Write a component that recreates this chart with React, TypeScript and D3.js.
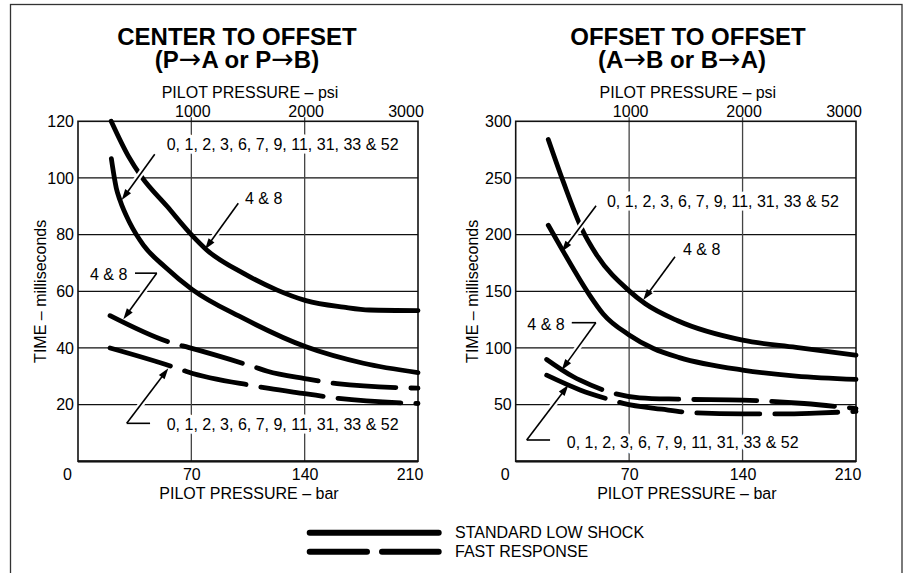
import React from 'react';
import * as d3 from 'd3';

type Pt = [number, number];

// axis ticks
const barTicks = [0, 70, 140, 210];
const psiTicks = [1000, 2000, 3000];
const gridBar = [70, 140];
const centerTimeTicks = [20, 40, 60, 80, 100, 120];
const offsetTimeTicks = [50, 100, 150, 200, 250, 300];

// center to offset, [bar, ms]
const centerStd48: Pt[] = [[20.5, 120], [31, 107.8], [39.3, 100.4], [55, 90], [70, 80], [79.5, 74.6], [102, 66.4], [122.7, 60.5], [140.8, 56.7], [164, 54.4], [180, 53.4], [210, 53.2]];
const centerStd0: Pt[] = [[20.6, 106.8], [23.7, 96.3], [25.9, 92.2], [32.1, 84], [40.4, 76.3], [54, 68.5], [70.4, 60.7], [102, 50.5], [140.8, 40.4], [176.3, 34.6], [210, 31.3]];
const centerFast48: Pt[] = [[19.8, 51.4], [58.9, 41.6], [68.1, 40.2], [108.3, 33.4], [117, 31.8], [140, 29.2], [160, 27.4], [210, 25.8]];
const centerFast0: Pt[] = [[19.8, 40], [62, 32.7], [68, 31.5], [110, 26.5], [118, 25.7], [140, 23.9], [161, 22.2], [210, 20.4]];

// offset to offset, [bar, ms]
const offsetStd48: Pt[] = [[20.1, 284], [29.4, 246.5], [40.7, 205.4], [50, 182], [70, 150.4], [80, 139], [100, 124], [140, 106.9], [173, 100.5], [210, 93.7]];
const offsetStd0: Pt[] = [[20.1, 208.3], [29.4, 185], [39.7, 160], [45.9, 146], [54, 130], [70, 111.5], [85, 99.5], [101, 91.5], [140, 80.5], [173, 75.2], [210, 72.3]];
const offsetFast48: Pt[] = [[19.1, 89.9], [35.6, 74.6], [39.7, 71.6], [76.5, 56], [100, 54.8], [140, 54], [168, 52], [178, 51], [210, 46.5]];
const offsetFast0: Pt[] = [[19.1, 76], [39.7, 63], [59.2, 54], [66.4, 51.1], [90, 46], [110, 42.8], [140, 41.8], [165, 41.8], [185, 42.5], [210, 44]];

const groupA = '0, 1, 2, 3, 6, 7, 9, 11, 31, 33 & 52';
const groupB = '4 & 8';

interface Note {
  text: string;
  at: Pt;
  from: Pt;
  to: Pt;
  bracket?: [Pt, Pt];
}

const centerNotes: Note[] = [
  { text: groupA, at: [54.8, 110], from: [47.4, 108.4], to: [27, 92.2] },
  { text: groupB, at: [103.1, 90.8], from: [99, 91.1], to: [78.5, 74.8] },
  { text: groupB, at: [7.4, 64], from: [48.6, 66.4], to: [28, 50.1], bracket: [[35.2, 66.4], [48.8, 66.4]] },
  { text: groupA, at: [54.8, 10.9], from: [30.1, 13.4], to: [55.8, 32.8], bracket: [[30.1, 13.4], [44.5, 13.4]] },
];

const offsetNotes: Note[] = [
  { text: groupA, at: [56.3, 224.4], from: [49.6, 225.5], to: [28.4, 184.9] },
  { text: groupB, at: [103.2, 181.6], from: [98.3, 180.5], to: [78.7, 142.3] },
  { text: groupB, at: [7.2, 115.9], from: [49.4, 122.3], to: [28.4, 80.6], bracket: [[34.6, 122.3], [49.6, 122.3]] },
  { text: groupA, at: [31.5, 11.5], from: [6.8, 18.8], to: [32.5, 67.3], bracket: [[6.8, 18.8], [21.2, 18.8]] },
];

const font = '"Liberation Sans", Arial, Helvetica, sans-serif';
const TOP = 121.3;
const BOTTOM = 461.3;

interface PanelProps {
  x0: number;
  x1: number;
  yMax: number;
  yTicks: number[];
  title: string;
  sub: string[];
  titleX: [number, number];
  yTitleX: number;
  solid: Pt[][];
  dashed: Pt[][];
  notes: Note[];
}

function Arrow({ p0, p1 }: { p0: [number, number]; p1: [number, number] }) {
  const dx = p1[0] - p0[0];
  const dy = p1[1] - p0[1];
  const len = Math.hypot(dx, dy);
  const ux = dx / len, uy = dy / len;
  const hl = 11, hw = 3.6;
  const bx = p1[0] - ux * hl, by = p1[1] - uy * hl;
  const head = `${p1[0]},${p1[1]} ${bx - uy * hw},${by + ux * hw} ${bx + uy * hw},${by - ux * hw}`;
  return (
    <g>
      <line x1={p0[0]} y1={p0[1]} x2={bx + ux * 2} y2={by + uy * 2} stroke="#000" strokeWidth={1.6} />
      <polygon points={head} fill="#000" />
    </g>
  );
}

function Panel(p: PanelProps) {
  const x = d3.scaleLinear().domain([0, 210]).range([p.x0, p.x1]);
  const psi = d3.scaleLinear().domain([0, 3000]).range([p.x0, p.x1]);
  const y = d3.scaleLinear().domain([0, p.yMax]).range([BOTTOM, TOP]);
  const line = d3.line<Pt>().x(d => x(d[0])).y(d => y(d[1])).curve(d3.curveMonotoneX);
  const cx = (p.x0 + p.x1) / 2;
  const sp = (q: Pt): [number, number] => [x(q[0]), y(q[1])];

  return (
    <g fontFamily={font} fill="#000">
      <text x={p.titleX[0]} y={45} fontSize={24} fontWeight="bold" textAnchor="middle">{p.title}</text>
      <text x={p.titleX[1]} y={68} fontSize={24} fontWeight="bold" textAnchor="middle">
        {p.sub.map((s, i) => (i % 2 === 1
          ? <tspan key={i} fontWeight="normal" fontFamily='"DejaVu Sans", sans-serif' fontSize={27}>{s}</tspan>
          : <tspan key={i}>{s}</tspan>))}
      </text>
      <text x={cx + 2} y={98} fontSize={16} textAnchor="middle">PILOT PRESSURE – psi</text>
      {psiTicks.map(t => (
        <text key={t} x={psi(t)} dx={t === 3000 ? -12 : 1.5} y={116.5} fontSize={16} textAnchor="middle">{t}</text>
      ))}

      {/* grid */}
      {p.yTicks.filter(t => t !== p.yMax).map(t => (
        <line key={t} x1={p.x0} x2={p.x1} y1={y(t)} y2={y(t)} stroke="#111" strokeWidth={1.3} />
      ))}
      {gridBar.map(t => (
        <line key={t} x1={x(t)} x2={x(t)} y1={TOP - 4} y2={BOTTOM} stroke="#444" strokeWidth={1.3} />
      ))}
      <rect x={p.x0} y={TOP} width={p.x1 - p.x0} height={BOTTOM - TOP} fill="none" stroke="#111" strokeWidth={1.6} />
      <line x1={p.x0} x2={p.x1} y1={BOTTOM} y2={BOTTOM} stroke="#111" strokeWidth={2.2} />

      {p.yTicks.map(t => (
        <text key={t} x={p.x0 - 4} y={y(t)} dy="0.36em" fontSize={16} textAnchor="end">{t}</text>
      ))}
      <text transform={`translate(${p.yTitleX},${(TOP + BOTTOM) / 2}) rotate(-90)`} fontSize={16} textAnchor="middle">
        TIME – milliseconds
      </text>
      {barTicks.map(t => (
        <text key={t} x={x(t)} dx={t === 0 ? -10.5 : t === 210 ? -8 : 0.5} y={479.5} fontSize={16} textAnchor="middle">{t}</text>
      ))}
      <text x={cx + 1} y={498.5} fontSize={16} textAnchor="middle">PILOT PRESSURE – bar</text>

      {/* curves */}
      {p.solid.map((c, i) => (
        <path key={'s' + i} d={line(c) ?? ''} fill="none" stroke="#000" strokeWidth={4.8} strokeLinecap="round" />
      ))}
      {p.dashed.map((c, i) => (
        <path key={'d' + i} d={line(c) ?? ''} fill="none" stroke="#000" strokeWidth={4.8} strokeLinecap="round" strokeDasharray="63 15" />
      ))}

      {/* annotation halos */}
      {p.notes.map((n, i) => {
        const a = sp(n.from), b = sp(n.to);
        const dx = b[0] - a[0], dy = b[1] - a[1];
        const len = Math.hypot(dx, dy);
        const e: [number, number] = [b[0] - dx / len * 12, b[1] - dy / len * 12];
        return (
          <g key={'h' + i} stroke="#fff" strokeWidth={6} strokeLinecap="butt">
            <line x1={a[0]} y1={a[1]} x2={e[0]} y2={e[1]} />
            {n.bracket && <line x1={x(n.bracket[0][0])} y1={y(n.bracket[0][1])} x2={x(n.bracket[1][0])} y2={y(n.bracket[1][1])} />}
          </g>
        );
      })}
      {p.notes.map((n, i) => (
        <g key={'n' + i}>
          <Arrow p0={sp(n.from)} p1={sp(n.to)} />
          {n.bracket && (
            <line x1={x(n.bracket[0][0])} y1={y(n.bracket[0][1])} x2={x(n.bracket[1][0])} y2={y(n.bracket[1][1])} stroke="#000" strokeWidth={1.6} />
          )}
          <text x={x(n.at[0])} y={y(n.at[1])} fontSize={16} stroke="#fff" strokeWidth={7} strokeLinejoin="round" paintOrder="stroke">
            {n.text}
          </text>
        </g>
      ))}
    </g>
  );
}

export default function App() {
  return (
    <svg width={904} height={573} style={{ position: 'absolute', left: 0, top: 0, display: 'block', background: '#fff' }}>
      <rect x={0} y={0} width={904} height={573} fill="#fff" />
      <rect x={10.5} y={4.5} width={891.5} height={620} fill="none" stroke="#333" strokeWidth={1.3} />
      <Panel
        x0={78} x1={418} yMax={120} yTicks={centerTimeTicks} yTitleX={46} titleX={[237, 237]}
        title="CENTER TO OFFSET" sub={['(P', '→', 'A or P', '→', 'B)']}
        solid={[centerStd48, centerStd0]} dashed={[centerFast48, centerFast0]} notes={centerNotes}
      />
      <Panel
        x0={515.7} x1={856} yMax={300} yTicks={offsetTimeTicks} yTitleX={478} titleX={[688, 682]}
        title="OFFSET TO OFFSET" sub={['(A', '→', 'B or B', '→', 'A)']}
        solid={[offsetStd48, offsetStd0]} dashed={[offsetFast48, offsetFast0]} notes={offsetNotes}
      />
      {/* legend */}
      <g fontFamily={font} fontSize={16}>
        <line x1={309.7} x2={438.7} y1={532.7} y2={532.7} stroke="#000" strokeWidth={6} strokeLinecap="round" />
        <line x1={309.7} x2={438.7} y1={551.7} y2={551.7} stroke="#000" strokeWidth={6} strokeLinecap="round" strokeDasharray="57.3 15" />
        <text x={455} y={538.3}>STANDARD LOW SHOCK</text>
        <text x={455} y={556.7}>FAST RESPONSE</text>
      </g>
    </svg>
  );
}
